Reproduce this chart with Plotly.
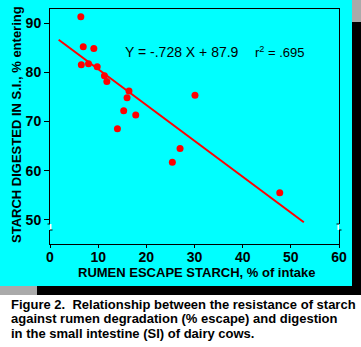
import plotly.graph_objects as go

# Rumen escape starch (% of intake) vs starch digested in the small intestine (% entering)
escape_pct = [6.4, 6.9, 9.1, 6.5, 8.0, 9.8, 11.3, 11.8, 16.4, 16.0, 15.3, 17.8, 30.1, 14.0, 27.0, 25.4, 47.7]
digested_pct = [91.3, 85.2, 84.8, 81.5, 81.7, 81.1, 79.3, 78.1, 76.2, 74.8, 72.2, 71.3, 75.3, 68.5, 64.5, 61.7, 55.5]

# Fitted regression
slope = -0.728
intercept = 87.9
r_squared = 0.695
fit_x = [1.8, 52.7]
fit_y = [intercept + slope * x for x in fit_x]

x_ticks = [0, 10, 20, 30, 40, 50, 60]
y_ticks = [50, 60, 70, 80, 90]

caption_lines = [
    "Figure 2.  Relationship between the resistance of starch",
    "against rumen degradation (% escape) and digestion",
    "in the small intestine (SI) of dairy cows.",
]

W, H = 361, 347
L, R, T, B = 50, 22, 9, 103
pw, ph = W - L - R, H - T - B


def px_x(px):
    return (px - L) / pw


def px_y(py):
    return (H - B - py) / ph


FONT = "Liberation Sans, Arial, sans-serif"
CYAN = "#00ffff"

fig = go.Figure()
fig.add_trace(go.Scatter(
    x=fit_x, y=fit_y, mode="lines",
    line=dict(color="#ff0000", width=2), hoverinfo="skip", showlegend=False,
))
fig.add_trace(go.Scatter(
    x=escape_pct, y=digested_pct, mode="markers",
    marker=dict(color="#ff0000", size=7, line=dict(width=0)), showlegend=False,
))

shapes = [
    # cyan panel behind the chart
    dict(type="rect", xref="paper", yref="paper", layer="below",
         x0=px_x(0), x1=px_x(352), y0=px_y(286), y1=px_y(0),
         fillcolor=CYAN, line=dict(width=0)),
    # drop shadow: right column
    dict(type="rect", xref="paper", yref="paper", layer="below",
         x0=px_x(352), x1=px_x(361), y0=px_y(22), y1=px_y(0),
         fillcolor="#aaaaaa", line=dict(width=0)),
    dict(type="rect", xref="paper", yref="paper", layer="below",
         x0=px_x(352), x1=px_x(361), y0=px_y(295), y1=px_y(22),
         fillcolor="#000000", line=dict(width=0)),
    # drop shadow: bottom row
    dict(type="rect", xref="paper", yref="paper", layer="below",
         x0=px_x(0), x1=px_x(37), y0=px_y(295), y1=px_y(286),
         fillcolor="#aaaaaa", line=dict(width=0)),
    dict(type="rect", xref="paper", yref="paper", layer="below",
         x0=px_x(37), x1=px_x(352), y0=px_y(295), y1=px_y(286),
         fillcolor="#000000", line=dict(width=0)),
]

# axis break marks on both vertical frame lines
for xe in (0, 1):
    shapes.append(dict(type="rect", xref="paper", yref="paper", layer="above",
                       x0=xe - 1.5 / pw, x1=xe, y0=px_y(230), y1=px_y(224),
                       fillcolor=CYAN if xe == 0 else "#ffffff", line=dict(width=0)))
    shapes.append(dict(type="rect", xref="paper", yref="paper", layer="above",
                       x0=xe, x1=xe + 1.5 / pw, y0=px_y(230), y1=px_y(224),
                       fillcolor="#ffffff" if xe == 0 else CYAN, line=dict(width=0)))
    shapes.append(dict(type="line", xref="paper", yref="paper", layer="above",
                       x0=xe - 2.5 / pw, x1=xe, y0=px_y(224), y1=px_y(224),
                       line=dict(color="#000000", width=1)))
    shapes.append(dict(type="line", xref="paper", yref="paper", layer="above",
                       x0=xe, x1=xe + 2.5 / pw, y0=px_y(230), y1=px_y(230),
                       line=dict(color="#000000", width=1)))

annotations = [
    dict(text="STARCH DIGESTED IN S.I., % entering", textangle=-90,
         xref="paper", yref="paper", x=px_x(16), y=px_y(125),
         xanchor="center", yanchor="middle", showarrow=False,
         font=dict(family=FONT, size=13, color="#000000", weight="bold")),
    dict(text="RUMEN ESCAPE STARCH, % of intake",
         xref="paper", yref="paper", x=px_x(196), y=px_y(272),
         xanchor="center", yanchor="middle", showarrow=False,
         font=dict(family=FONT, size=13, color="#000000", weight="bold")),
    dict(text=f"Y = {slope:.3f} X + {intercept}".replace("-0.", "-."),
         xref="paper", yref="paper", x=px_x(123), y=px_y(52),
         xanchor="left", yanchor="middle", showarrow=False,
         font=dict(family=FONT, size=14, color="#000000")),
    dict(text=f"r<sup>2</sup> = {r_squared:.3f}".replace("0.", "."),
         xref="paper", yref="paper", x=px_x(253), y=px_y(52),
         xanchor="left", yanchor="middle", showarrow=False,
         font=dict(family=FONT, size=13, color="#000000")),
]
for i, line in enumerate(caption_lines):
    annotations.append(dict(
        text=line, xref="paper", yref="paper", x=px_x(9), y=px_y(304 + 14.5 * i),
        xanchor="left", yanchor="middle", showarrow=False,
        font=dict(family=FONT, size=13, color="#000000", weight="bold"),
    ))

fig.update_layout(
    width=W, height=H,
    margin=dict(l=L, r=R, t=T, b=B, pad=0),
    paper_bgcolor="#ffffff", plot_bgcolor="#ffffff",
    shapes=shapes, annotations=annotations,
    xaxis=dict(range=[0, 60], tickvals=x_ticks, ticks="outside", ticklen=3,
               tickcolor="#000000", showgrid=False, zeroline=False,
               showline=True, linecolor="#000000", linewidth=1, mirror=True,
               ticklabelstandoff=-3,
               tickfont=dict(family=FONT, size=14, color="#000000", weight="bold")),
    yaxis=dict(range=[45.1, 92.85], tickvals=y_ticks, ticks="outside", ticklen=5,
               tickcolor="#000000", showgrid=False, zeroline=False,
               showline=True, linecolor="#000000", linewidth=1, mirror=True,
               tickfont=dict(family=FONT, size=14, color="#000000", weight="bold")),
)

fig.write_html("out.html")
